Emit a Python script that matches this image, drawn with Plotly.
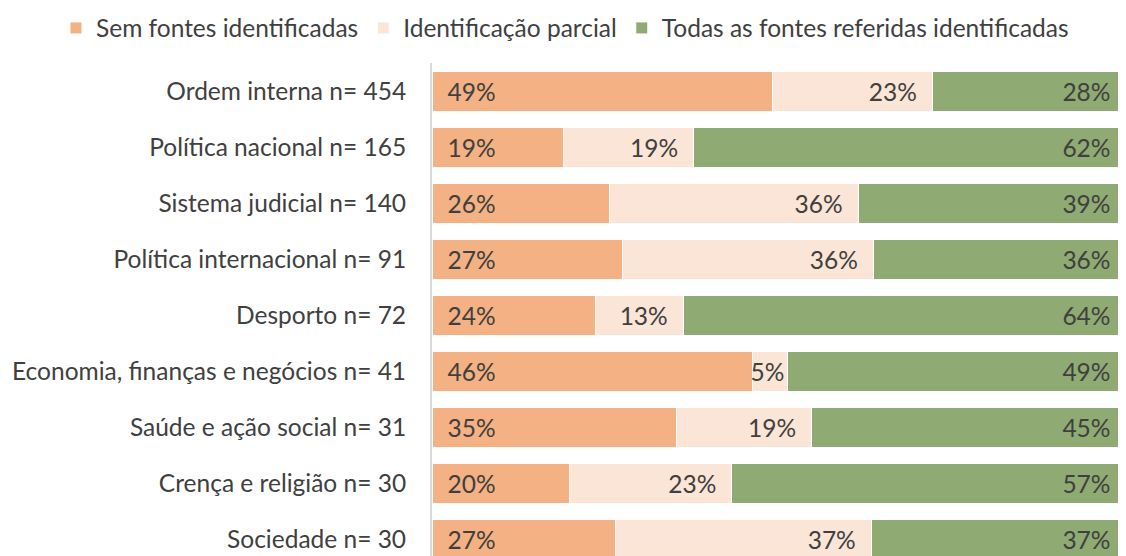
import plotly.graph_objects as go

categories = [
    "Ordem interna n= 454",
    "Política nacional n= 165",
    "Sistema judicial n= 140",
    "Política internacional n= 91",
    "Desporto n= 72",
    "Economia, finanças e negócios n= 41",
    "Saúde e ação social n= 31",
    "Crença e religião n= 30",
    "Sociedade n= 30",
]
sem_fontes = [49.0, 18.9, 25.6, 27.4, 23.6, 46.2, 35.3, 19.8, 26.5]
parcial = [23.1, 18.8, 35.8, 36.2, 12.6, 5.0, 19.4, 23.4, 36.8]
todas = [27.9, 62.3, 38.6, 36.4, 63.8, 48.8, 45.3, 56.8, 36.7]

series_names = ["Sem fontes identificadas", "Identificação parcial",
                "Todas as fontes referidas identificadas"]
colors = ["#F4B183", "#FBE5D6", "#8FAA72"]

FONT = "Lato, Carlito, Calibri, sans-serif"
FS = 24.5
TXT = "#404040"
PAD = "\u00a0\u00a0"

def tmpl(vals, lead):
    out = []
    for v in vals:
        if v < 8:
            out.append("%{x:.0f}%")
        elif lead:
            out.append(PAD + "%{x:.0f}%")
        else:
            out.append("%{x:.0f}%" + PAD)
    return out

fig = go.Figure()
for name, vals, col, lead in zip(series_names, [sem_fontes, parcial, todas], colors,
                                 [True, False, False]):
    fig.add_trace(go.Bar(
        y=categories, x=vals, name=name, orientation="h",
        marker=dict(color=col, line=dict(color="white", width=1)),
        texttemplate=tmpl(vals, lead),
        textposition="inside",
        insidetextanchor="start" if lead else "end",
        constraintext="none",
        textangle=0,
        textfont=dict(family=FONT, size=FS, color=TXT),
        cliponaxis=True,
    ))

# page body has an 8px default margin; figure sized so it ends at the window edge
fig.update_layout(
    width=1118, height=548,
    barmode="stack", bargap=0.286,
    margin=dict(l=424, r=0, t=55, b=0, autoexpand=False),
    paper_bgcolor="white", plot_bgcolor="white",
    font=dict(family=FONT, size=FS, color=TXT),
    showlegend=True,
    legend=dict(orientation="h", x=-0.5418, xanchor="left", y=1.071, yanchor="middle",
                font=dict(family=FONT, size=FS, color=TXT), traceorder="normal",
                itemwidth=30, tracegroupgap=0),
    xaxis=dict(range=[0, 100], showgrid=False, zeroline=False, showticklabels=False,
               showline=False, fixedrange=True),
    yaxis=dict(autorange=False, range=[8.30, -0.5], showgrid=False, zeroline=False,
               showline=True, linecolor="#D9D9D9", linewidth=2, ticks="",
               ticklabelstandoff=19, tickfont=dict(family=FONT, size=FS, color=TXT)),
)

fig.write_html("out.html")
